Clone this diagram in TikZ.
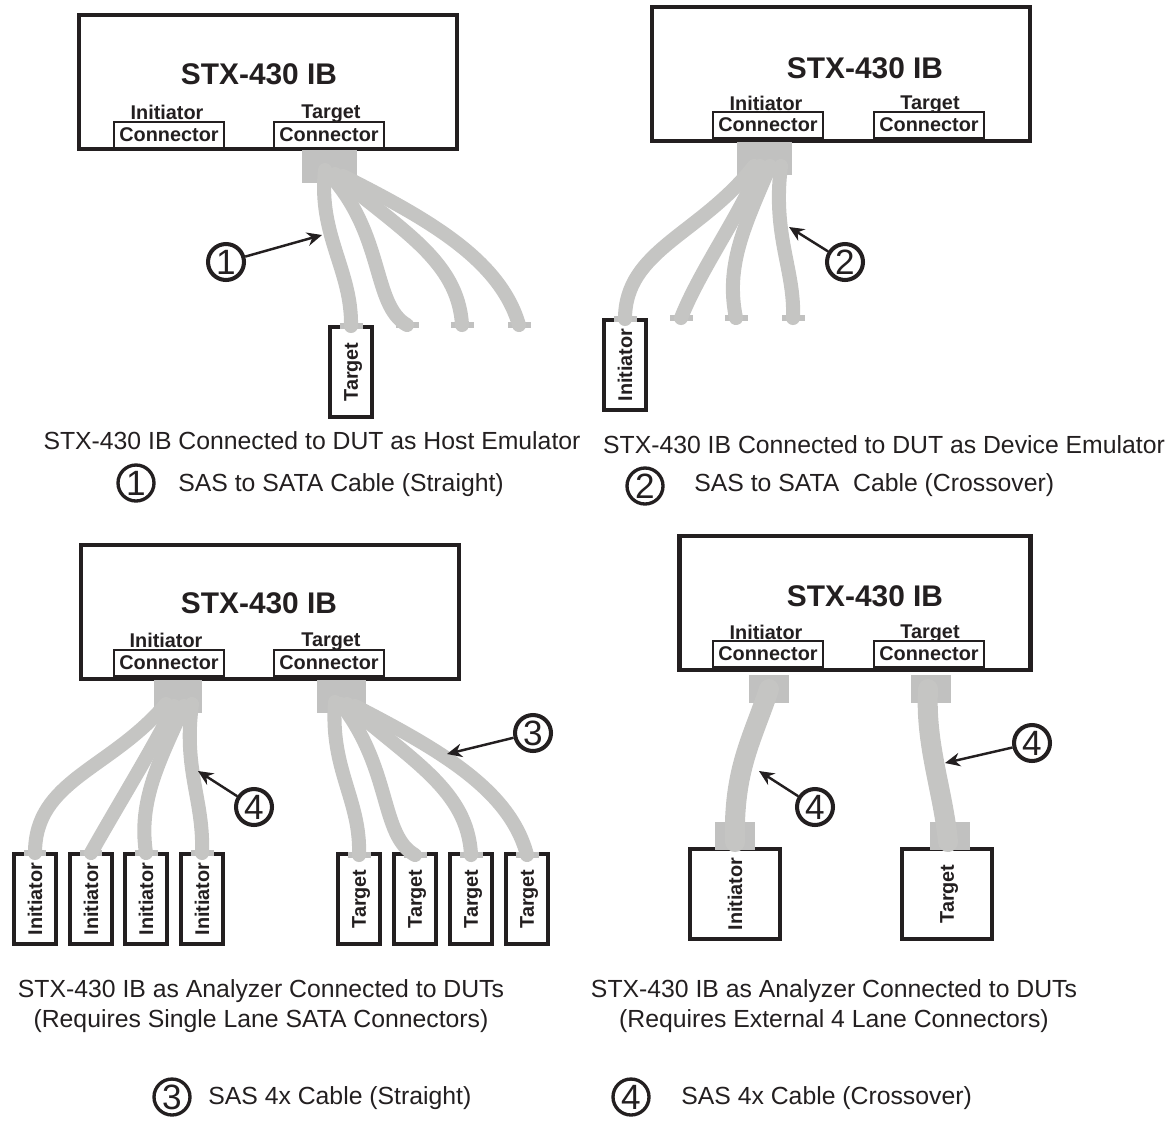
\documentclass[tikz,border=0pt]{standalone}
\usepackage{fontspec}
\setmainfont{Liberation Sans}
\usetikzlibrary{arrows.meta}

\definecolor{cablegray}{HTML}{C5C5C3}
\definecolor{plugray}{HTML}{C1C1C0}
\definecolor{inkblack}{HTML}{231F20}

\tikzset{
  unitbox/.style={draw=inkblack, line width=2.7pt, fill=white, minimum width=7.56cm, minimum height=2.68cm, inner sep=0pt, outer sep=0pt},
  unitname/.style={font=\fontsize{17}{17}\selectfont\bfseries, text=inkblack},
  portname/.style={font=\fontsize{11.3}{11.3}\selectfont\bfseries, text=inkblack, text depth=0pt},
  portbox/.style={draw=inkblack, line width=0.7pt, fill=white, minimum width=2.2cm, minimum height=0.52cm, inner sep=0pt, portname},
  plugbig/.style={fill=plugray, minimum width=1.1cm, minimum height=0.66cm, inner sep=0pt, outer sep=0pt},
  plugmid/.style={fill=plugray, minimum width=0.98cm, minimum height=0.66cm, inner sep=0pt, outer sep=0pt},
  plugsmall/.style={fill=plugray, minimum width=0.8cm, minimum height=0.56cm, inner sep=0pt, outer sep=0pt},
  tipbar/.style={fill=plugray, minimum width=0.46cm, minimum height=0.12cm, inner sep=0pt, outer sep=0pt},
  cable/.style={draw=cablegray, line width=8pt, line cap=round},
  fatcable/.style={draw=cablegray, line width=11.4pt, line cap=round},
  dutbox/.style={draw=inkblack, line width=2.5pt, fill=white, rotate=90, minimum width=1.8cm, minimum height=0.84cm, inner sep=0pt, portname},
  bigdut/.style={draw=inkblack, line width=2.5pt, fill=white, rotate=90, minimum width=1.8cm, minimum height=1.8cm, inner sep=0pt, portname},
  callout/.style={draw=inkblack, line width=2.3pt, fill=white, circle, minimum size=0.72cm, inner sep=0pt, text=inkblack, font=\fontsize{20}{20}\selectfont},
  pointer/.style={draw=inkblack, line width=1.4pt, -{Stealth[length=0.3cm, width=0.27cm]}},
  caption/.style={font=\fontsize{14.1}{14.1}\selectfont, text=inkblack},
  legend/.style={caption, anchor=west, inner sep=0pt}
}

\begin{document}
\begin{tikzpicture}[x=0.02cm, y=-0.02cm]
\useasboundingbox (0,0) rectangle (1175,1120);

% Host emulator unit
\node[unitbox] (unitA) at (268,82) {};
\node[unitname] (nameA) at (259,74) {STX-430 IB};
\node[portname] (initA) at (167,112) {Initiator};
\node[portname] (targA) at (331,112) {Target};
\node[portbox] (initconA) at (169,135) {Connector};
\node[portbox] (targconA) at (329,135) {Connector};

% Host emulator cables
\node[dutbox] (dutA) at (351,372) {Target};
\node[plugbig] (plugA) at (329,166) {};
\node[tipbar] (tipAa) at (351,326) {};
\node[tipbar] (tipAb) at (407,325) {};
\node[tipbar] (tipAc) at (462,325) {};
\node[tipbar] (tipAd) at (519,325) {};
\draw[cable] ([shift={(-4,4)}]plugA.center) .. controls (318,235) and (352,270) .. (tipAa.center);
\draw[cable] ([shift={(0,8)}]plugA.center) .. controls (385,235) and (372,305) .. (tipAb.center);
\draw[cable] ([shift={(6,8)}]plugA.center) .. controls (400,230) and (458,260) .. (tipAc.center);
\draw[cable] ([shift={(14,10)}]plugA.center) .. controls (430,220) and (500,260) .. (tipAd.center);
\node[callout] (numA) at (226,262) {1};
\coordinate (endA) at (322,235);
\draw[pointer] (numA) -- (endA);

% Device emulator unit
\node[unitbox] (unitB) at (841,74) {};
\node[unitname] (nameB) at (865,68) {STX-430 IB};
\node[portname] (initB) at (766,103) {Initiator};
\node[portname] (targB) at (930,103) {Target};
\node[portbox] (initconB) at (768,125) {Connector};
\node[portbox] (targconB) at (929,125) {Connector};

% Device emulator cables
\node[dutbox] (dutB) at (625,365) {Initiator};
\node[plugbig] (plugB) at (764,158) {};
\node[tipbar] (tipBa) at (625,319) {};
\node[tipbar] (tipBb) at (681,318) {};
\node[tipbar] (tipBc) at (736,318) {};
\node[tipbar] (tipBd) at (793,318) {};
\draw[cable] ([shift={(-10,8)}]plugB.center) .. controls (700,235) and (625,250) .. (tipBa.center);
\draw[cable] ([shift={(-4,8)}]plugB.center) .. controls (740,215) and (700,270) .. (tipBb.center);
\draw[cable] ([shift={(6,8)}]plugB.center) .. controls (745,225) and (725,265) .. (tipBc.center);
\draw[cable] ([shift={(17,8)}]plugB.center) .. controls (772,235) and (795,270) .. (tipBd.center);
\node[callout] (numB) at (845,262) {2};
\coordinate (endB) at (789,227);
\draw[pointer] (numB) -- (endB);

% Captions of the upper row
\node[caption] (capA) at (312,441) {STX-430 IB Connected to DUT as Host Emulator};
\node[caption] (capB) at (884,445) {STX-430 IB Connected to DUT as Device Emulator};
\node[callout, line width=1.9pt] (keyA) at (136,483) {1};
\node[legend] (keytextA) at (178,485) {SAS to SATA Cable (Straight)};
\node[callout, line width=1.9pt] (keyB) at (645,486) {2};
\node[legend] (keytextB) at (694,485) {SAS to SATA\ \ Cable (Crossover)};

% Analyzer unit with single lanes
\node[unitbox] (unitC) at (270,612) {};
\node[unitname] (nameC) at (259,603) {STX-430 IB};
\node[portname] (initC) at (166,640) {Initiator};
\node[portname] (targC) at (331,640) {Target};
\node[portbox] (initconC) at (169,663) {Connector};
\node[portbox] (targconC) at (329,663) {Connector};

% Initiator side of the analyzer
\node[dutbox] (dutCa) at (35,899) {Initiator};
\node[dutbox] (dutCb) at (91,899) {Initiator};
\node[dutbox] (dutCc) at (146,899) {Initiator};
\node[dutbox] (dutCd) at (202,899) {Initiator};
\node[plugmid] (plugC) at (178,696) {};
\node[tipbar] (tipCa) at (35,853) {};
\node[tipbar] (tipCb) at (91,853) {};
\node[tipbar] (tipCc) at (146,853) {};
\node[tipbar] (tipCd) at (202,853) {};
\draw[cable] ([shift={(-12,8)}]plugC.center) .. controls (110,770) and (35,780) .. (tipCa.center);
\draw[cable] ([shift={(-4,10)}]plugC.center) .. controls (155,745) and (115,810) .. (tipCb.center);
\draw[cable] ([shift={(6,10)}]plugC.center) .. controls (160,760) and (138,800) .. (tipCc.center);
\draw[cable] ([shift={(14,8)}]plugC.center) .. controls (183,770) and (204,800) .. (tipCd.center);
\node[callout] (numC) at (254,807) {4};
\coordinate (endC) at (198,771);
\draw[pointer] (numC) -- (endC);

% Target side of the analyzer
\node[dutbox] (dutDa) at (359,899) {Target};
\node[dutbox] (dutDb) at (415,899) {Target};
\node[dutbox] (dutDc) at (471,899) {Target};
\node[dutbox] (dutDd) at (527,899) {Target};
\node[plugmid] (plugD) at (341,696) {};
\node[tipbar] (tipDa) at (359,855) {};
\node[tipbar] (tipDb) at (415,855) {};
\node[tipbar] (tipDc) at (471,855) {};
\node[tipbar] (tipDd) at (527,855) {};
\draw[cable] ([shift={(-6,6)}]plugD.center) .. controls (330,770) and (361,800) .. (tipDa.center);
\draw[cable] ([shift={(0,8)}]plugD.center) .. controls (392,770) and (380,835) .. (tipDb.center);
\draw[cable] ([shift={(6,8)}]plugD.center) .. controls (410,760) and (468,790) .. (tipDc.center);
\draw[cable] ([shift={(14,10)}]plugD.center) .. controls (440,750) and (510,790) .. (tipDd.center);
\node[callout] (numD) at (533,733) {3};
\coordinate (endD) at (447,754);
\draw[pointer] (numD) -- (endD);

% Analyzer unit with external connectors
\node[unitbox, minimum width=7.02cm] (unitE) at (855,603) {};
\node[unitname] (nameE) at (865,596) {STX-430 IB};
\node[portname] (initE) at (766,632) {Initiator};
\node[portname] (targE) at (930,632) {Target};
\node[portbox] (initconE) at (768,654) {Connector};
\node[portbox] (targconE) at (929,654) {Connector};

% External connectors and cables
\node[bigdut] (dutEa) at (735,894) {Initiator};
\node[bigdut] (dutEb) at (947,894) {Target};
\node[plugsmall] (plugE) at (769,689) {};
\node[plugsmall] (plugF) at (931,689) {};
\node[plugsmall] (plugG) at (735,836) {};
\node[plugsmall] (plugH) at (950,836) {};
\draw[fatcable] (plugE.center) .. controls (752,740) and (733,770) .. ([shift={(0,6)}]plugG.center);
\draw[fatcable] ([shift={(-3,0)}]plugF.center) .. controls (925,745) and (943,790) .. ([shift={(-2,6)}]plugH.center);
\node[callout] (numE) at (815,807) {4};
\coordinate (endE) at (759,771);
\draw[pointer] (numE) -- (endE);
\node[callout] (numF) at (1032,743) {4};
\coordinate (endF) at (945,763);
\draw[pointer] (numF) -- (endF);

% Captions of the lower row
\node[caption] (capC) at (261,991) {STX-430 IB as Analyzer Connected to DUTs};
\node[caption] (capD) at (261,1021) {(Requires Single Lane SATA Connectors)};
\node[caption] (capE) at (834,991) {STX-430 IB as Analyzer Connected to DUTs};
\node[caption] (capF) at (834,1021) {(Requires External 4 Lane Connectors)};
\node[callout, line width=1.9pt] (keyC) at (172,1097) {3};
\node[legend] (keytextC) at (208,1098) {SAS 4x Cable (Straight)};
\node[callout, line width=1.9pt] (keyD) at (631,1097) {4};
\node[legend] (keytextD) at (681,1098) {SAS 4x Cable (Crossover)};
\end{tikzpicture}
\end{document}
